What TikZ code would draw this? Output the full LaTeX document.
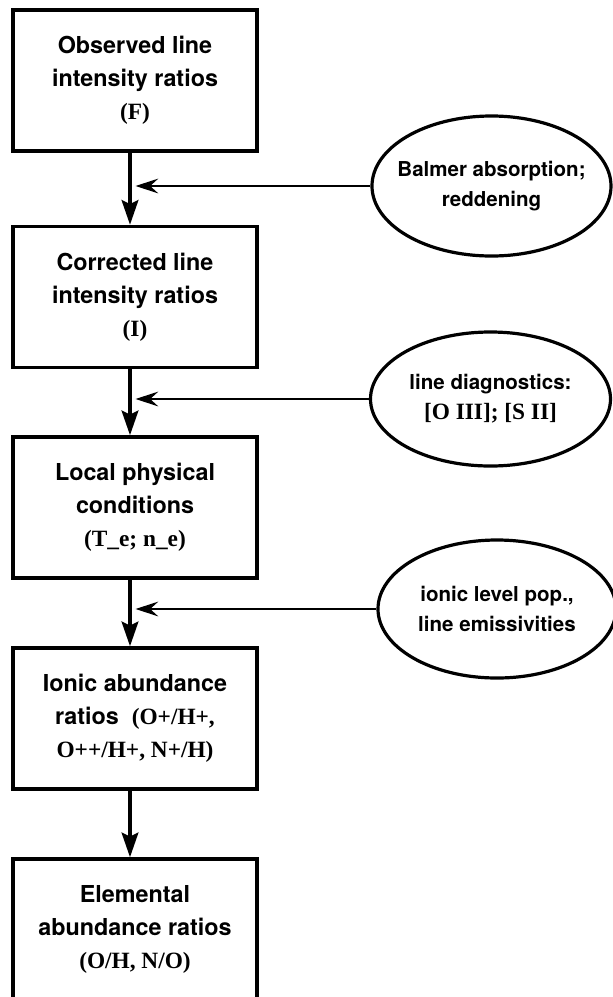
\documentclass[tikz,border=0pt]{standalone}
\usepackage{fontspec}
\newfontfamily\hv{TeX Gyre Heros}
\newfontfamily\tm{Liberation Serif}
\usetikzlibrary{arrows.meta,shapes.geometric}
\begin{document}
\begin{tikzpicture}[x=0.75pt,y=-0.75pt,
  stagebox/.style={draw,line width=2.6pt,minimum width=183pt,minimum height=105.75pt,
    inner sep=0pt,align=center,font=\hv\bfseries\fontsize{17.5}{24.75}\selectfont},
  inputell/.style={draw,ellipse,line width=2.4pt,inner sep=0pt},
  elltext/.style={align=center,inner sep=0pt,font=\hv\bfseries\fontsize{15.4}{22.5}\selectfont},
  flow/.style={line width=2.8pt,-{Stealth[length=18.5pt,width=12.5pt,inset=3pt]}},
  feed/.style={line width=1.9pt,-{Stealth[length=17pt,width=11pt,inset=6pt]}}]
\useasboundingbox (0,0) rectangle (613,997);
\clip (0,0) rectangle (613,997);

% main chain of stages
\node[stagebox] (b1) at (135,80.5) {Observed line\\intensity ratios\\{\tm (F)}};
\node[stagebox] (b2) at (135,297) {Corrected line\\intensity ratios\\{\tm (I)}};
\node[stagebox] (b3) at (135,507.5) {Local physical\\conditions\\{\tm (T\_e; n\_e)}};
\node[stagebox] (b4) at (135,718.5) {Ionic abundance\\ratios\ \ {\tm (O+/H+,}\\{\tm O++/H+, N+/H)}};
\node[stagebox] (b5) at (135,929.5) {Elemental\\abundance ratios\\{\tm (O/H, N/O)}};

% side inputs
\node[inputell,minimum width=179.25pt,minimum height=105pt] (e1) at (491.5,186) {};
\node[elltext] (e1t) at (e1.center) {Balmer absorption;\\reddening};
\node[inputell,minimum width=180pt,minimum height=100.5pt] (e2) at (490.5,399) {};
\node[elltext] (e2t) at (e2.center) {line diagnostics:\\{\tm\fontsize{17.5}{22.5}\selectfont [O III]; [S II]}};
\node[inputell,minimum width=178.5pt,minimum height=103.5pt] (e3) at (497,609) {};
\node[elltext] (e3t) at (e3.center) {ionic level pop.,\\line emissivities};

% x position of the vertical flow and tips of the side arrows
\coordinate (ax) at (130,0);
\coordinate (t1) at (135.5,186);
\coordinate (t2) at (135.5,399);
\coordinate (t3) at (135.5,609);

\draw[flow] (b1.south -| ax) -- (b2.north -| ax);
\draw[flow] (b2.south -| ax) -- (b3.north -| ax);
\draw[flow] (b3.south -| ax) -- (b4.north -| ax);
\draw[flow] (b4.south -| ax) -- (b5.north -| ax);

\draw[feed] (e1.west) -- (t1);
\draw[feed] (e2.west) -- (t2);
\draw[feed] (e3.west) -- (t3);
\end{tikzpicture}
\end{document}
